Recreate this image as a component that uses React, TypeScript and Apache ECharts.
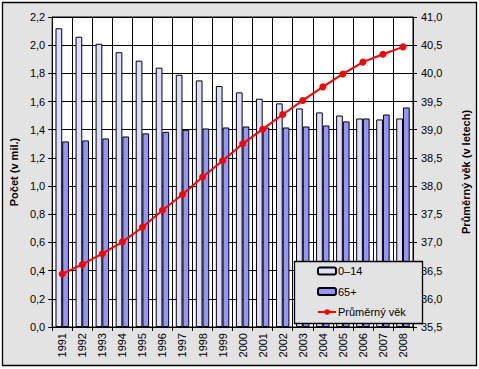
import React, { useEffect, useRef } from "react";
import * as echarts from "echarts";

const years = ["1991","1992","1993","1994","1995","1996","1997","1998","1999","2000","2001","2002","2003","2004","2005","2006","2007","2008"];
const kids = [2.12, 2.06, 2.01, 1.95, 1.89, 1.84, 1.79, 1.75, 1.71, 1.665, 1.62, 1.587, 1.551, 1.523, 1.501, 1.48, 1.473, 1.48];
const seniors = [1.317, 1.324, 1.338, 1.352, 1.374, 1.385, 1.399, 1.409, 1.416, 1.423, 1.416, 1.416, 1.423, 1.43, 1.459, 1.48, 1.508, 1.558];
const avgAge = [36.44, 36.61, 36.8, 37.01, 37.27, 37.57, 37.85, 38.16, 38.45, 38.75, 39.01, 39.27, 39.52, 39.76, 39.99, 40.2, 40.34, 40.47];

const FONT = "Liberation Sans, Arial, sans-serif";
const comma1 = (v: number) => v.toFixed(1).replace(".", ",");

export default function App() {
  const ref = useRef<HTMLDivElement>(null);
  useEffect(() => {
    if (!ref.current) return;
    const chart = echarts.init(ref.current, null, { renderer: "svg" });
    chart.setOption({
      animation: false,
      backgroundColor: "#fff",
      textStyle: { fontFamily: FONT },
      graphic: [
        {
          type: "rect",
          z: -10,
          silent: true,
          shape: { x: 2.5, y: 2.5, width: 474, height: 363 },
          style: { fill: "#E3E3E3", stroke: "#000", lineWidth: 1.3 },
        },
        {
          type: "rect",
          z: 10,
          silent: true,
          shape: { x: 294.5, y: 261.5, width: 128, height: 62 },
          style: { fill: "#E3E3E3", stroke: "#000", lineWidth: 1.3 },
        },
      ],
      legend: {
        z: 20,
        orient: "vertical",
        left: 317,
        top: 264,
        itemWidth: 18,
        itemHeight: 7,
        itemGap: 6.5,
        padding: 0,
        textStyle: { fontFamily: FONT, fontSize: 11, color: "#000", lineHeight: 14, padding: [0, 0, 0, -3] },
        data: ["0–14", "65+", "Průměrný věk"],
      },
      grid: {
        left: 43,
        top: 17,
        width: 386,
        height: 310,
        show: true,
        backgroundColor: "#fff",
        borderColor: "#000",
        borderWidth: 1,
      },
      xAxis: {
        type: "category",
        data: years,
        boundaryGap: true,
        axisLine: { lineStyle: { color: "#000", width: 1 } },
        axisTick: { show: true, length: 4, lineStyle: { color: "#000" } },
        splitLine: { show: true, lineStyle: { color: "#000", width: 1 } },
        axisLabel: { rotate: 90, fontSize: 11, color: "#000", margin: 6, fontFamily: FONT },
      },
      yAxis: [
        {
          type: "value",
          min: 0,
          max: 2.2,
          interval: 0.2,
          name: "Počet (v mil.)",
          nameLocation: "middle",
          nameGap: 31,
          nameTextStyle: { fontSize: 11, fontWeight: "bold", color: "#000", fontFamily: FONT },
          axisLine: { show: true, lineStyle: { color: "#000" } },
          axisTick: { show: true, length: 4, lineStyle: { color: "#000" } },
          splitLine: { show: true, lineStyle: { color: "#000", width: 1 } },
          axisLabel: { fontSize: 11, color: "#000", margin: 7, formatter: comma1, fontFamily: FONT },
        },
        {
          type: "value",
          position: "right",
          min: 35.5,
          max: 41,
          interval: 0.5,
          name: "Průměrný věk (v letech)",
          nameLocation: "middle",
          nameGap: 47,
          nameTextStyle: { fontSize: 11, fontWeight: "bold", color: "#000", fontFamily: FONT },
          axisLine: { show: true, lineStyle: { color: "#000" } },
          axisTick: { show: true, length: 4, lineStyle: { color: "#000" } },
          splitLine: { show: false },
          axisLabel: { fontSize: 11, color: "#000", margin: 8, formatter: comma1, fontFamily: FONT },
        },
      ],
      series: [
        {
          name: "0–14",
          type: "bar",
          data: kids,
          barGap: "0%",
          barCategoryGap: "33%",
          itemStyle: { color: "#DDDDFF", borderColor: "#000", borderWidth: 1 },
        },
        {
          name: "65+",
          type: "bar",
          data: seniors,
          barGap: "0%",
          barCategoryGap: "33%",
          itemStyle: { color: "#9494FF", borderColor: "#000", borderWidth: 1 },
        },
        {
          name: "Průměrný věk",
          type: "line",
          yAxisIndex: 1,
          data: avgAge,
          symbol: "circle",
          symbolSize: 7,
          z: 5,
          lineStyle: { color: "#FF0000", width: 2 },
          itemStyle: { color: "#FF0000" },
        },
      ],
    });
    return () => chart.dispose();
  }, []);
  return (
    <div
      ref={ref}
      style={{ position: "fixed", left: 0, top: 0, width: 479, height: 369 }}
    />
  );
}
